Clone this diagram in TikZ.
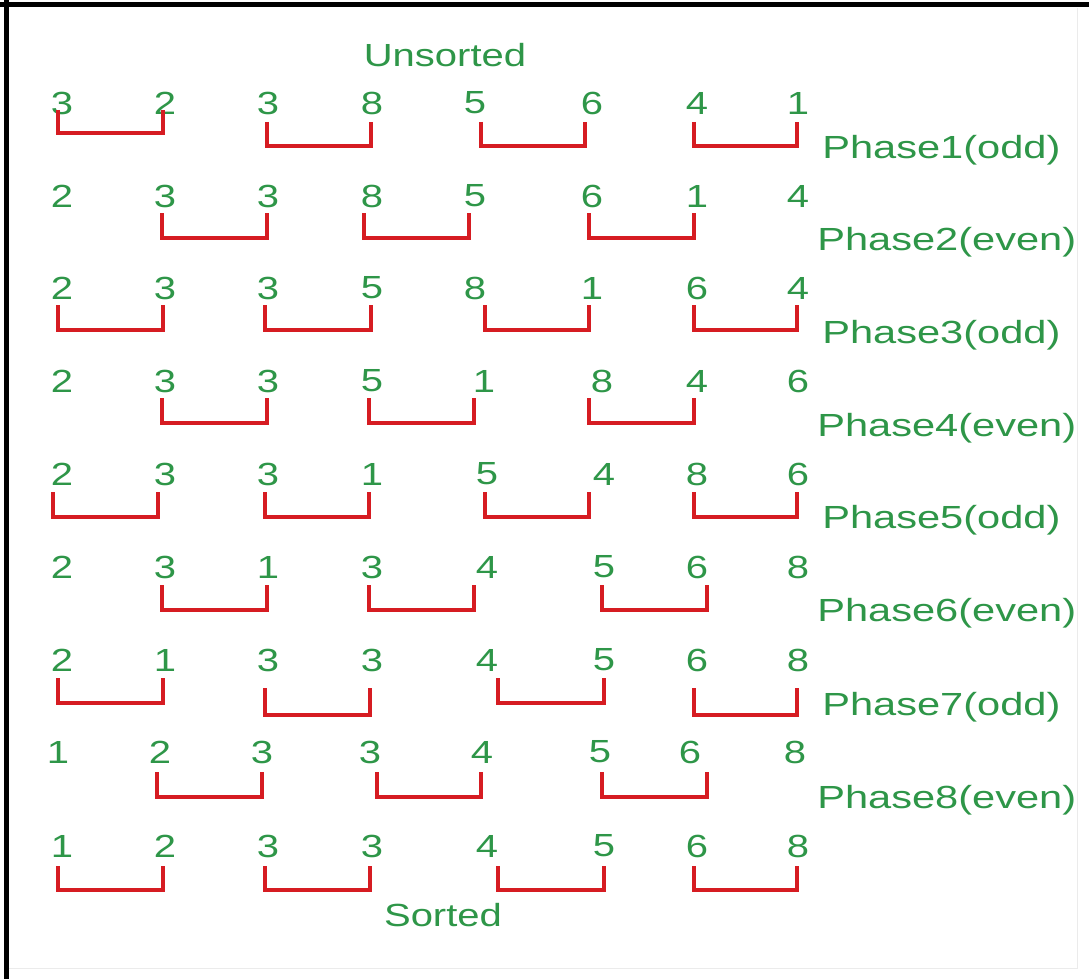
\documentclass[tikz,border=0pt]{standalone}
\usepackage{fontspec}
\setmainfont{Liberation Sans}
\definecolor{txtgreen}{RGB}{46,150,72}
\definecolor{brred}{RGB}{214,28,34}
\begin{document}
\begin{tikzpicture}[x=1pt,y=-1pt,
  num/.style={text=txtgreen, font=\fontsize{32}{36}\selectfont, inner sep=0pt, xscale=1.25},
  lbl/.style={num, anchor=west, xscale=1.04},
  bracket/.style={draw=brred, line width=4pt}]
  \useasboundingbox (0,0) rectangle (1089,979);
  \fill[white] (0,0) rectangle (1089,979);
  % frame
  \draw[line width=5pt] (6.5,0) -- (6.5,979);
  \draw[line width=5pt] (0,4.5) -- (1089,4.5);
  \draw[black!8, line width=1pt] (1077,8) -- (1077,968) -- (9,968);

  % rows of values, one row per phase
  \foreach \xx/\v [count=\c] in {62/3,165/2,268/3,372/8,475/5,592/6,697/4,798/1}
    \node[num] (r1c\c) at (\xx,103) {\v};
  \foreach \xx/\v [count=\c] in {62/2,165/3,268/3,372/8,475/5,592/6,697/1,798/4}
    \node[num] (r2c\c) at (\xx,196) {\v};
  \foreach \xx/\v [count=\c] in {62/2,165/3,268/3,372/5,475/8,592/1,697/6,798/4}
    \node[num] (r3c\c) at (\xx,288) {\v};
  \foreach \xx/\v [count=\c] in {62/2,165/3,268/3,372/5,484/1,602/8,697/4,798/6}
    \node[num] (r4c\c) at (\xx,381) {\v};
  \foreach \xx/\v [count=\c] in {62/2,165/3,268/3,372/1,487/5,604/4,697/8,798/6}
    \node[num] (r5c\c) at (\xx,474) {\v};
  \foreach \xx/\v [count=\c] in {62/2,165/3,268/1,372/3,487/4,604/5,697/6,798/8}
    \node[num] (r6c\c) at (\xx,567) {\v};
  \foreach \xx/\v [count=\c] in {62/2,165/1,268/3,372/3,487/4,604/5,697/6,798/8}
    \node[num] (r7c\c) at (\xx,660) {\v};
  \foreach \xx/\v [count=\c] in {58/1,160/2,262/3,370/3,482/4,600/5,690/6,795/8}
    \node[num] (r8c\c) at (\xx,752) {\v};
  \foreach \xx/\v [count=\c] in {62/1,165/2,268/3,372/3,487/4,604/5,697/6,798/8}
    \node[num] (r9c\c) at (\xx,846) {\v};

  % headings and phase labels
  \node[num] (unsorted) at (445,55) {Unsorted};
  \node[num] (sorted) at (443,915) {Sorted};
  \node[lbl] (p1) at (822,150) {Phase1(odd)};
  \node[lbl] (p2) at (817,242) {Phase2(even)};
  \node[lbl] (p3) at (822,335) {Phase3(odd)};
  \node[lbl] (p4) at (817,428) {Phase4(even)};
  \node[lbl] (p5) at (822,520) {Phase5(odd)};
  \node[lbl] (p6) at (817,613) {Phase6(even)};
  \node[lbl] (p7) at (822,707) {Phase7(odd)};
  \node[lbl] (p8) at (817,800) {Phase8(even)};

  % compare-exchange brackets
  \foreach \a/\b/\t/\u in {
      58/163/110/133, 267/371/122/146, 481/585/122/146, 694/797/122/146,
      162/267/213/238, 364/469/213/238, 589/694/213/238,
      58/163/305/330, 265/371/305/330, 485/589/305/330, 694/797/305/330,
      162/267/398/423, 369/474/398/423, 589/694/398/423,
      53/158/492/517, 265/369/492/517, 485/589/492/517, 694/797/492/517,
      162/267/585/610, 369/474/585/610, 602/707/585/610,
      58/163/678/703, 265/370/688/715, 498/604/678/703, 694/797/688/715,
      157/262/772/797, 377/481/772/797, 602/707/772/797,
      58/163/866/890, 265/370/866/890, 498/604/866/890, 694/797/866/890}{
    \draw[bracket] (\a,\t) |- (\b,\u) -- (\b,\t);
  }
\end{tikzpicture}
\end{document}
